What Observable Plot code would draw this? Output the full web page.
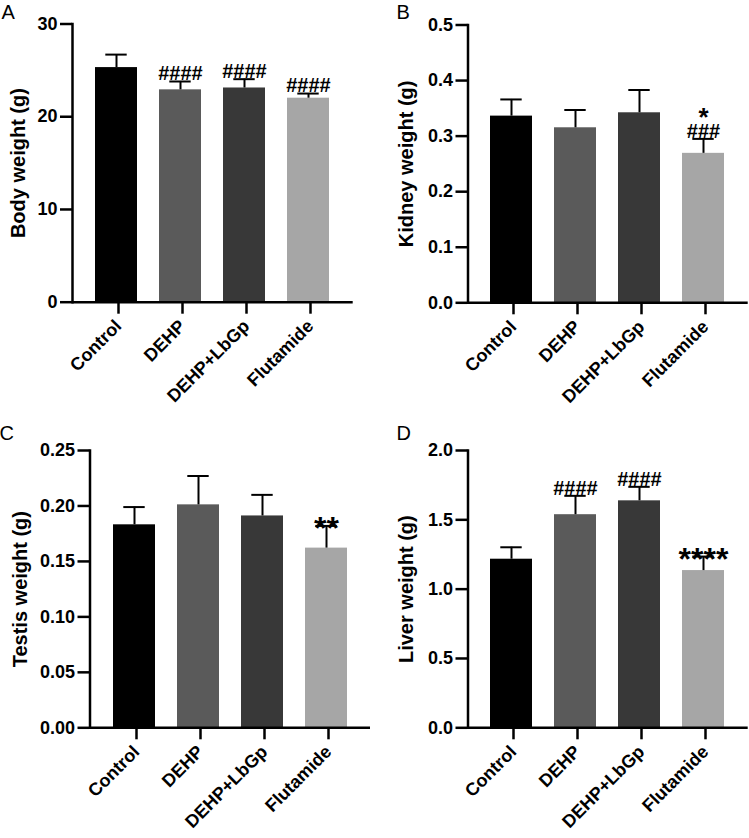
<!DOCTYPE html>
<html>
<head>
<meta charset="utf-8">
<script src="https://cdn.jsdelivr.net/npm/d3@7"></script>
<script src="https://cdn.jsdelivr.net/npm/@observablehq/plot@0.6"></script>
<style>
  html, body { margin: 0; padding: 0; background: #fff; }
  #root { position: relative; width: 749px; height: 838px; overflow: hidden; font-family: "Liberation Sans", Arial, sans-serif; }
  .panel { position: absolute; }
  .letter { position: absolute; font-size: 20px; font-weight: normal; color: #000; line-height: 23px; }
</style>
</head>
<body>
<div id="root"></div>
<script>
// ---------- data ----------
const groups = ["Control", "DEHP", "DEHP+LbGp", "Flutamide"];
const barColors = ["#000000", "#5a5a5a", "#383838", "#a6a6a6"];

const bodyMean = [25.3, 22.9, 23.1, 22.0];
const bodySD = [1.4, 0.9, 0.95, 0.5];
const bodyHash = ["", "####", "####", "####"];
const bodyStar = ["", "", "", ""];
const bodyTicks = [0, 10, 20, 30];

const kidneyMean = [0.336, 0.315, 0.342, 0.269];
const kidneySD = [0.030, 0.032, 0.041, 0.026];
const kidneyHash = ["", "", "", "###"];
const kidneyStar = ["", "", "", "*"];
const kidneyTicks = [0, 0.1, 0.2, 0.3, 0.4, 0.5];

const testisMean = [0.183, 0.201, 0.191, 0.162];
const testisSD = [0.016, 0.026, 0.019, 0.020];
const testisHash = ["", "", "", ""];
const testisStar = ["", "", "", "**"];
const testisTicks = [0, 0.05, 0.10, 0.15, 0.20, 0.25];

const liverMean = [1.216, 1.537, 1.637, 1.134];
const liverSD = [0.086, 0.136, 0.101, 0.101];
const liverHash = ["", "####", "####", ""];
const liverStar = ["", "", "", "****"];
const liverTicks = [0, 0.5, 1.0, 1.5, 2.0];

// ---------- build ----------
function rows(mean, sd, hash, star) {
  return groups.map((g, i) => ({ group: g, mean: mean[i], upper: mean[i] + sd[i], hash: hash[i], star: star[i] }));
}

function panel(cfg) {
  const data = rows(cfg.mean, cfg.sd, cfg.hash, cfg.star);
  const sw = 2.5;
  const starOpts = { x: "group", y: "upper", text: "star", fontSize: 32, fontWeight: "bold", fill: "#000" };
  return Plot.plot({
    width: cfg.width, height: 419,
    marginLeft: cfg.ml, marginTop: cfg.mt, marginBottom: 419 - cfg.y0, marginRight: cfg.mr,
    style: { fontFamily: "'Liberation Sans', Arial, sans-serif", fontWeight: "bold", fontSize: "18px", color: "#000", background: "#fff" },
    x: { domain: groups, paddingInner: 0.34, paddingOuter: 0.355, align: 0.5 },
    y: { domain: cfg.domain },
    color: { domain: groups, range: barColors },
    marks: [
      Plot.barY(data, { x: "group", y: "mean", fill: "group" }),
      Plot.ruleX(data, { x: "group", y1: "mean", y2: "upper", stroke: "#000", strokeWidth: 2 }),
      Plot.tickY(data, { x: "group", y: "upper", stroke: "#000", strokeWidth: 2, insetLeft: 10.3, insetRight: 10.3 }),
      Plot.text(data.filter(d => d.hash), { x: "group", y: "upper", text: "hash", fontSize: 20, fontWeight: "bold", dy: -7.5, fill: "#000" }),
      Plot.text(data.filter(d => d.star && !d.hash), { ...starOpts, dy: 3 }),
      Plot.text(data.filter(d => d.star && d.hash), { ...starOpts, fontSize: 26, dy: -21 }),
      Plot.axisY({ ticks: cfg.ticks, tickFormat: cfg.fmt, tickSize: 12, tickPadding: 3, strokeWidth: sw, label: null, fontSize: 18 }),
      Plot.axisX({ tickSize: 12, tickPadding: 9, dx: 2, tickRotate: -45, strokeWidth: sw, label: null, fontSize: 18 }),
      Plot.frame({ anchor: "left", strokeWidth: sw, strokeLinecap: "square" }),
      Plot.ruleY([0], { strokeWidth: sw }),
      Plot.text([cfg.title], { frameAnchor: "left", textAnchor: "middle", lineAnchor: "middle", rotate: -90, dx: cfg.tdx, fontSize: 20, fontWeight: "bold", fill: "#000" })
    ]
  });
}

const panels = [
  { key: "A", left: 0, top: 0, width: 374, ml: 72, mt: 23.5, y0: 301.7, mr: 21.3,
    mean: bodyMean, sd: bodySD, hash: bodyHash, star: bodyStar, ticks: bodyTicks, fmt: d3.format("d"),
    domain: [0, 30], title: "Body weight (g)", tdx: -54, lx: 1.5, ly: 1 },
  { key: "B", left: 375, top: 0, width: 374, ml: 92.5, mt: 24.5, y0: 302.3, mr: 1.3,
    mean: kidneyMean, sd: kidneySD, hash: kidneyHash, star: kidneyStar, ticks: kidneyTicks, fmt: d3.format(".1f"),
    domain: [0, 0.5], title: "Kidney weight (g)", tdx: -61.5, lx: 21.5, ly: 1 },
  { key: "C", left: 0, top: 420, width: 374, ml: 89.5, mt: 30, y0: 307.3, mr: 4,
    mean: testisMean, sd: testisSD, hash: testisHash, star: testisStar, ticks: testisTicks, fmt: d3.format(".2f"),
    domain: [0, 0.25], title: "Testis weight (g)", tdx: -69.5, lx: -0.5, ly: 2 },
  { key: "D", left: 375, top: 420, width: 374, ml: 92.5, mt: 30, y0: 307.3, mr: 1.3,
    mean: liverMean, sd: liverSD, hash: liverHash, star: liverStar, ticks: liverTicks, fmt: d3.format(".1f"),
    domain: [0, 2], title: "Liver weight (g)", tdx: -61.5, lx: 21.5, ly: 2 }
];

const root = document.getElementById("root");
for (const p of panels) {
  const div = document.createElement("div");
  div.className = "panel";
  div.style.left = p.left + "px";
  div.style.top = p.top + "px";
  div.style.width = p.width + "px";
  div.style.height = "419px";
  div.appendChild(panel(p));
  const letter = document.createElement("div");
  letter.className = "letter";
  letter.textContent = p.key;
  letter.style.left = p.lx + "px";
  letter.style.top = p.ly + "px";
  div.appendChild(letter);
  root.appendChild(div);
}
</script>
</body>
</html>
